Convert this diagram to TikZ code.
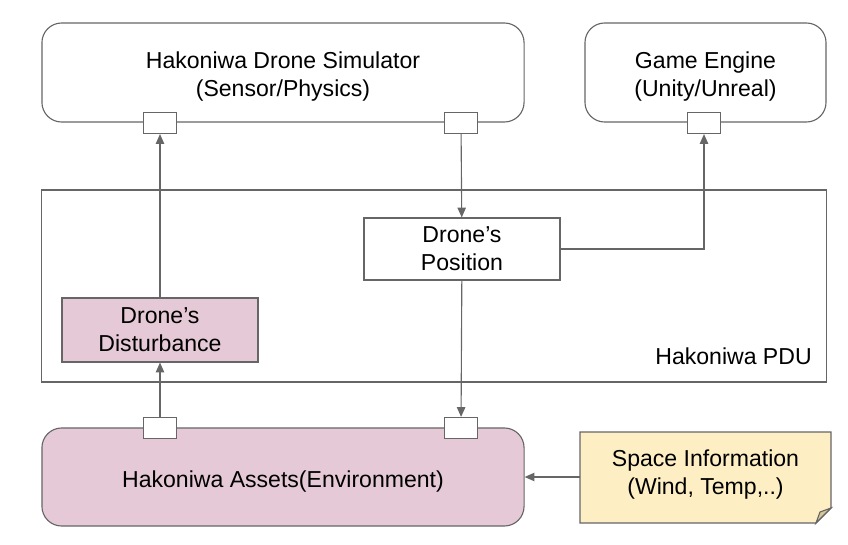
\documentclass[tikz,border=0pt]{standalone}
\usepackage{fontspec}
\setmainfont{Liberation Sans}
\usetikzlibrary{arrows.meta}
\definecolor{linegray}{HTML}{666666}
\definecolor{boxpink}{HTML}{E6C9D6}
\definecolor{noteyellow}{HTML}{FDEEC3}
\definecolor{foldyellow}{HTML}{D6C79B}
\tikzset{
  txt/.style={font=\fontsize{16.4}{20}\selectfont, align=center, inner sep=0pt},
  block/.style={txt, draw=linegray, line width=0.8pt, rounded corners=14pt, minimum height=2.475cm, text height=37.7pt},
  plain/.style={txt, draw=linegray, line width=0.8pt, minimum width=4.9cm},
  port/.style={draw=linegray, fill=white, line width=0.8pt, minimum width=0.825cm, minimum height=0.525cm, inner sep=0pt},
  link/.style={draw=linegray, line width=0.8pt, -{Triangle[length=7pt,width=6pt]}}
}
\begin{document}
\begin{tikzpicture}[x=0.025cm,y=-0.025cm]
\useasboundingbox (0,0) rectangle (848,545);
% modules
\node[block, minimum width=12.05cm] (sim) at (283,72.5) {Hakoniwa Drone Simulator\\(Sensor/Physics)};
\node[block, minimum width=6.025cm] (game) at (705.5,72.5) {Game Engine\\(Unity/Unreal)};
\node[block, fill=boxpink, minimum width=12.05cm, minimum height=2.45cm, text height=17.8pt] (assets) at (283,477) {Hakoniwa Assets(Environment)};

% pdu area
\node[draw=linegray, line width=0.8pt, minimum width=19.6cm, minimum height=4.8cm, inner sep=0pt] (pdu) at (434,286) {};
\node[txt, anchor=east] (pdulabel) at (812,356) {Hakoniwa PDU};
\node[plain, minimum height=1.55cm] (pos) at (462,249) {Drone’s\\Position};
\node[plain, fill=boxpink, minimum height=1.6cm] (dist) at (160,330) {Drone’s\\Disturbance};

% space information note
\path[draw=linegray, line width=0.8pt, fill=noteyellow] (580,432) -- (831,432) -- (831,508) -- (816,523) -- (580,523) -- cycle;
\path[draw=linegray, line width=0.8pt, fill=foldyellow] (831,508) -- (820,512) -- (816,523) -- cycle;
\node[txt, minimum width=6.275cm] (space) at (705.5,474.5) {Space Information\\(Wind, Temp,..)};

% ports
\node[port] (simout) at (160,123) {};
\node[port] (simin) at (461,123) {};
\node[port] (gamein) at (704,123) {};
\node[port] (assetout) at (160,428) {};
\node[port] (assetin) at (461,428) {};

\path[link] (assetout) -- (dist);
\path[link] (dist) -- (simout);
\path[link] (simin) -- (pos);
\path[link] (pos.east) -| (gamein.south);
\path[link] (pos) -- (assetin);
\path[link] (space.west |- assets.east) -- (assets.east);
\end{tikzpicture}
\end{document}
